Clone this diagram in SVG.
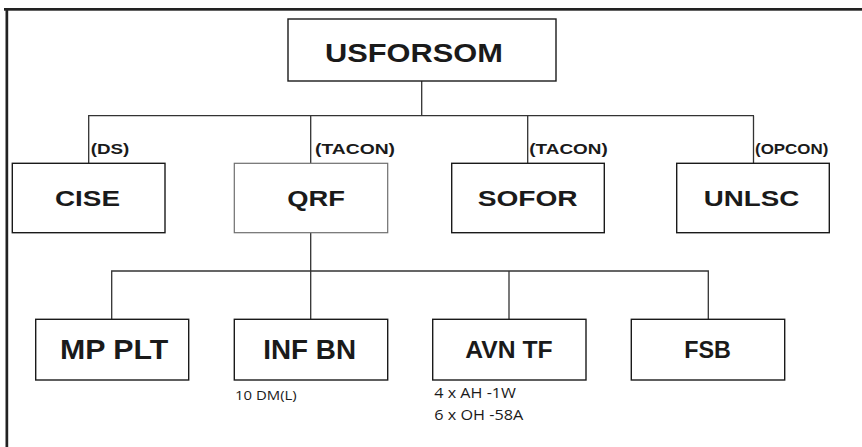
<svg xmlns="http://www.w3.org/2000/svg" width="862" height="447" viewBox="0 0 862 447">
<style>
.box{fill:#fff;stroke:#1a1a1a;stroke-width:1.4}
.qbox{fill:#fff;stroke:#6e6e6e;stroke-width:1.2}
.con{fill:none;stroke:#333;stroke-width:1.3}
.t{font-family:"Liberation Sans",Arial,sans-serif;font-weight:bold;fill:#1a1a1a}
.s{font-family:"Open Sans","Noto Sans",sans-serif;fill:#1a1a1a}
</style>
<rect width="862" height="447" fill="#fff"/>
<g id="frame">
<rect x="4" y="8" width="858" height="2.7" fill="#222"/>
<rect x="5.5" y="8" width="2.7" height="439" fill="#222"/>
</g>
<g id="connectors">
<path class="con" d="M421.7 81V115.7M88.7 163.3V115.7H754M310.7 115.7V163.3M527.7 115.7V163.3M753.5 115.7V163.3"/>
<path class="con" d="M310.7 233V319.3M111.7 319.3V271H708.3V319.3M509 271V319.3"/>
</g>
<g id="usforsom">
<rect class="box" x="288" y="19" width="268" height="62"/>
<text class="t" x="325" y="61.7" font-size="25.6" textLength="178" lengthAdjust="spacingAndGlyphs">USFORSOM</text>
</g>
<g id="cise">
<rect class="box" x="12.3" y="163.3" width="152.7" height="69.4"/>
<text class="t" x="55" y="206" font-size="22.3" textLength="65" lengthAdjust="spacingAndGlyphs">CISE</text>
<text class="t" x="90.7" y="154" font-size="15" textLength="38.6" lengthAdjust="spacingAndGlyphs">(DS)</text>
</g>
<g id="qrf">
<rect class="qbox" x="234.3" y="163.3" width="153.4" height="69.4"/>
<text class="t" x="287.3" y="206" font-size="22.3" textLength="57.7" lengthAdjust="spacingAndGlyphs">QRF</text>
<text class="t" x="315" y="154" font-size="15" textLength="80" lengthAdjust="spacingAndGlyphs">(TACON)</text>
</g>
<g id="sofor">
<rect class="box" x="451.7" y="163.3" width="152.6" height="69.4"/>
<text class="t" x="477.7" y="206" font-size="22.3" textLength="100" lengthAdjust="spacingAndGlyphs">SOFOR</text>
<text class="t" x="529.3" y="154" font-size="15" textLength="78.4" lengthAdjust="spacingAndGlyphs">(TACON)</text>
</g>
<g id="unlsc">
<rect class="box" x="676.7" y="163.3" width="152.6" height="69.4"/>
<text class="t" x="703.7" y="206" font-size="22.3" textLength="95.6" lengthAdjust="spacingAndGlyphs">UNLSC</text>
<text class="t" x="755" y="154" font-size="15" textLength="73.3" lengthAdjust="spacingAndGlyphs">(OPCON)</text>
</g>
<g id="mpplt">
<rect class="box" x="35.7" y="319.3" width="153" height="60.7"/>
<text class="t" x="60" y="359.3" font-size="28" textLength="108.3" lengthAdjust="spacingAndGlyphs">MP PLT</text>
</g>
<g id="infbn">
<rect class="box" x="234.3" y="319.3" width="153.4" height="60.7"/>
<text class="t" x="263.3" y="359.3" font-size="28" textLength="92.7" lengthAdjust="spacingAndGlyphs">INF BN</text>
<text class="s" x="235" y="400" font-size="13" textLength="61.7" lengthAdjust="spacingAndGlyphs">10 DM(L)</text>
</g>
<g id="avntf">
<rect class="box" x="432.7" y="319.3" width="153.3" height="60.7"/>
<text class="t" x="465.3" y="358.3" font-size="23.3" textLength="87.3" lengthAdjust="spacingAndGlyphs">AVN TF</text>
<text class="s" x="434.3" y="398.3" font-size="14" textLength="81.7" lengthAdjust="spacingAndGlyphs">4 x AH -1W</text>
<text class="s" x="434.3" y="420" font-size="14" textLength="89" lengthAdjust="spacingAndGlyphs">6 x OH -58A</text>
</g>
<g id="fsb">
<rect class="box" x="631.3" y="319.3" width="153.4" height="60.7"/>
<text class="t" x="684.3" y="358.3" font-size="23.3" textLength="46.7" lengthAdjust="spacingAndGlyphs">FSB</text>
</g>
</svg>
